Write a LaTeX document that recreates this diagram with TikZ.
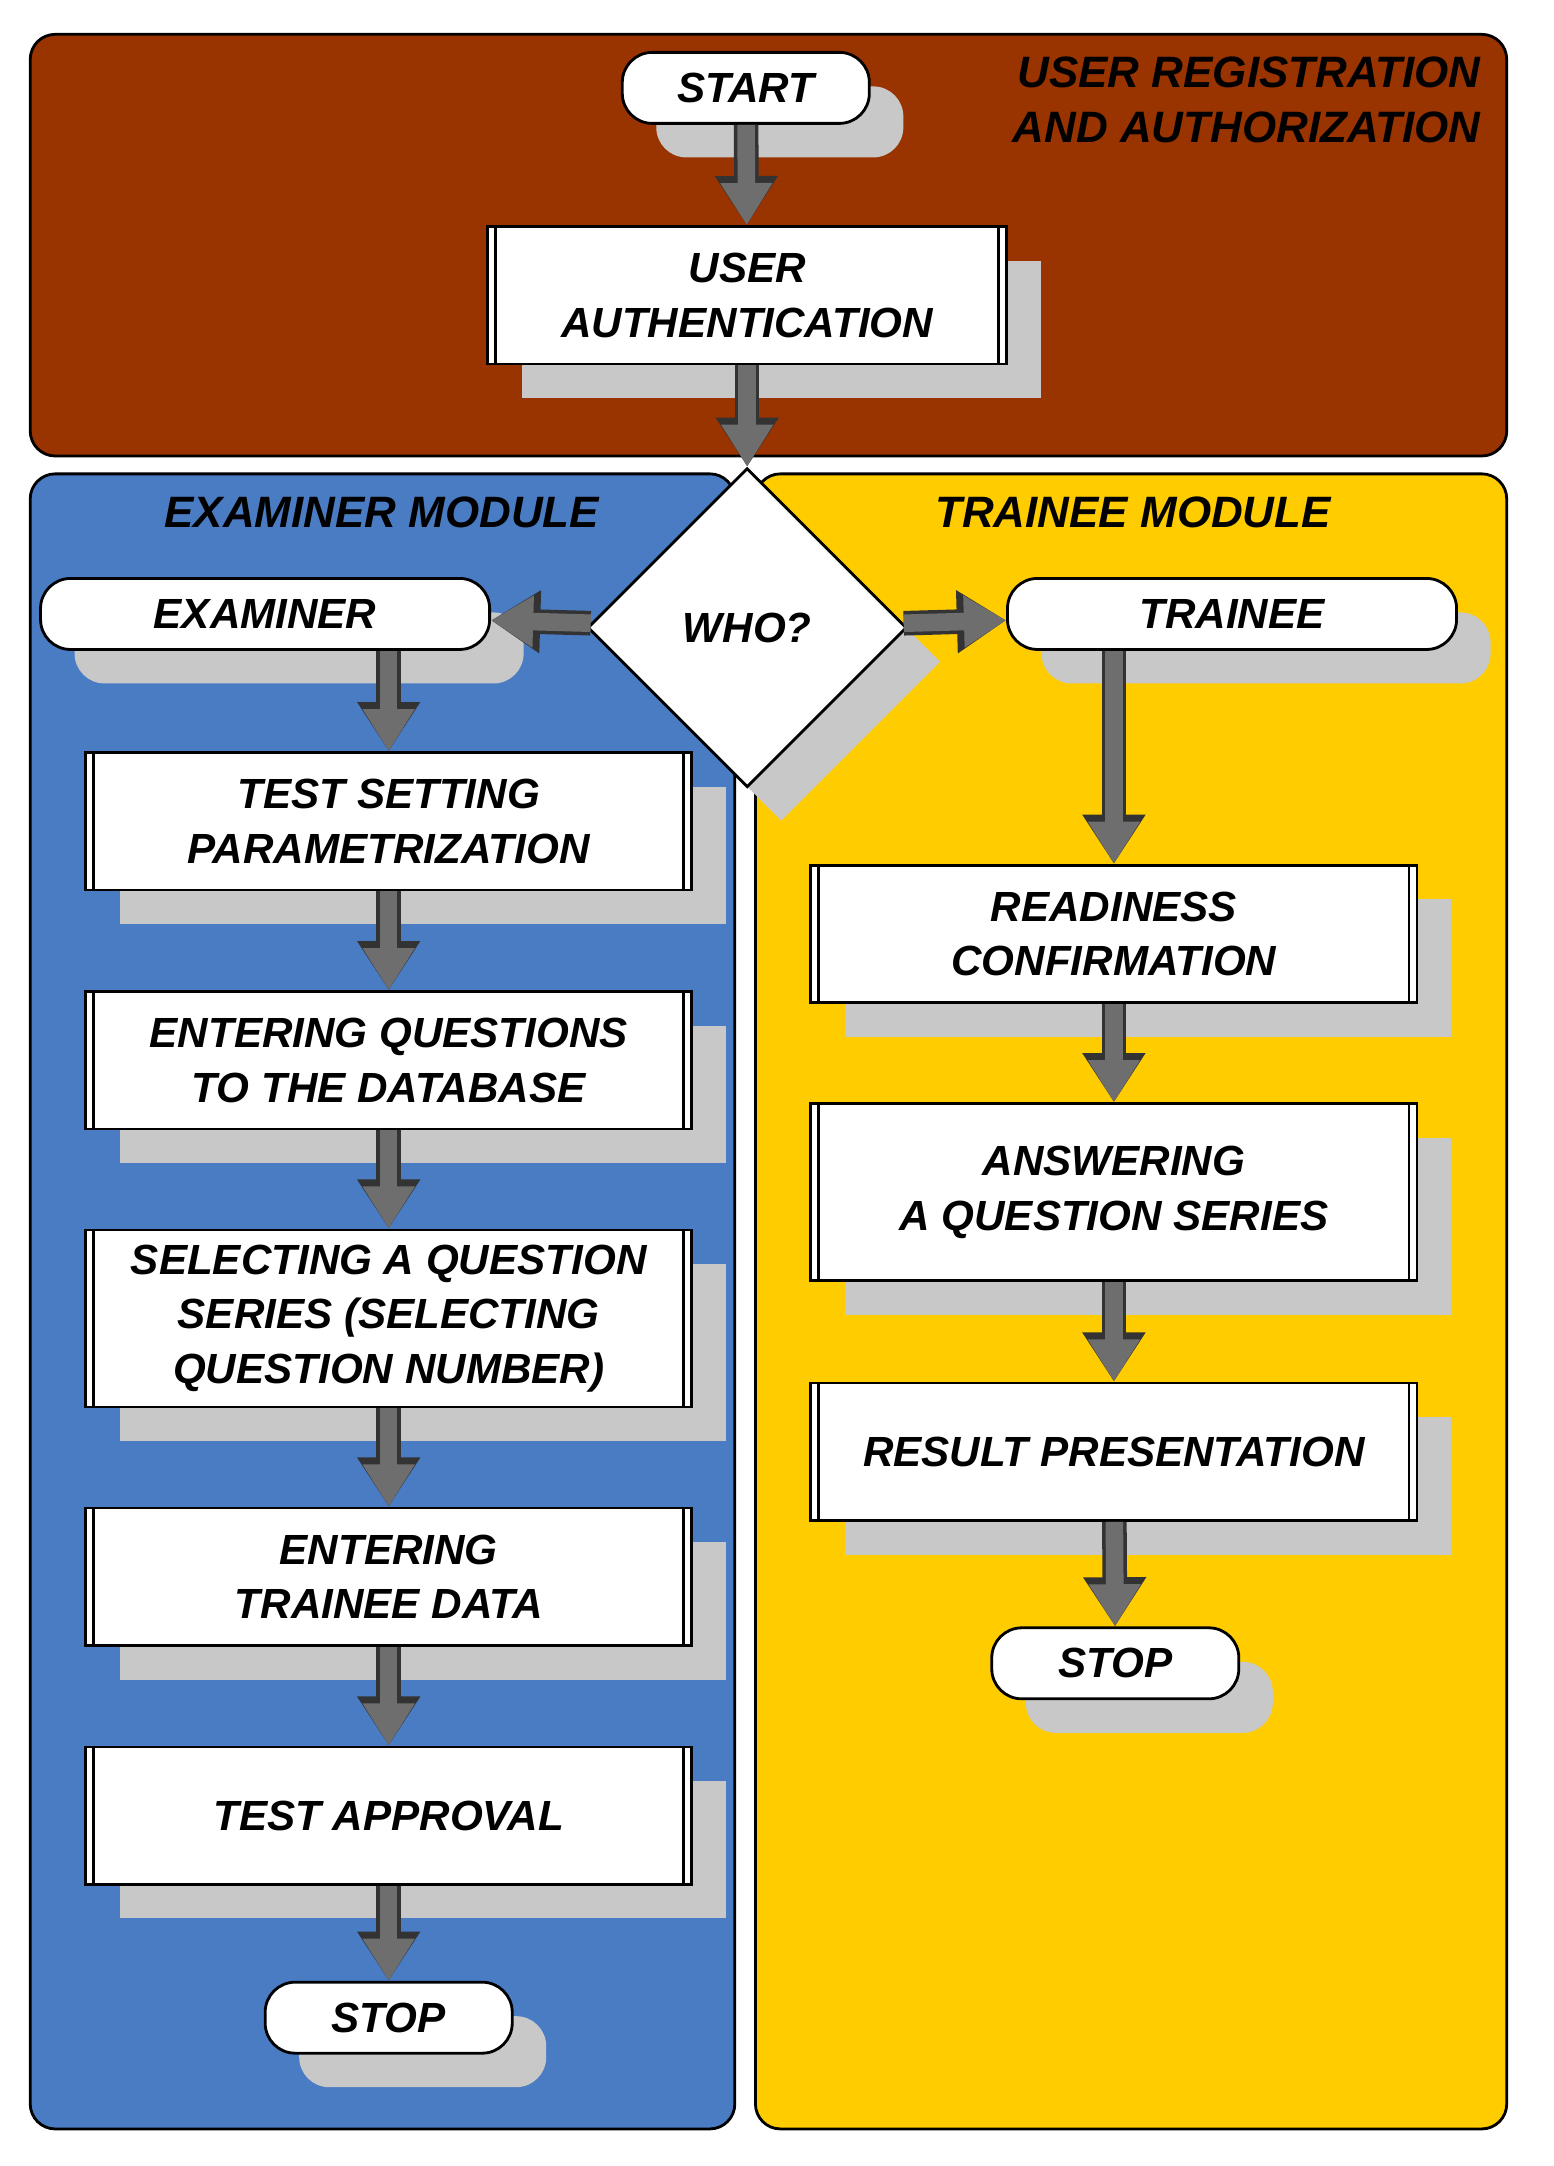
\documentclass[tikz,border=0pt]{standalone}
\usepackage{fontspec}
\setmainfont{Liberation Sans}
\usetikzlibrary{shapes.geometric,arrows.meta,shadows}
\definecolor{brownreg}{HTML}{993300}
\definecolor{bluemod}{HTML}{4A7CC4}
\definecolor{yellowmod}{HTML}{FFCC00}
\definecolor{shadowgray}{HTML}{C8C8C8}
\definecolor{arrowgray}{HTML}{6E6E6E}

\begin{document}
\begin{tikzpicture}[x=0.01374cm,y=-0.01374cm,
  every node/.style={font=\fontsize{12}{15.6}\selectfont\bfseries\itshape,align=center},
  shade/.style={drop shadow={shadow xshift=0.34cm,shadow yshift=-0.34cm,fill=shadowgray,opacity=1}},
  term/.style={draw=black,thick,fill=white,rounded corners=0.3cm,shade,minimum height=0.71cm},
  proc/.style={draw=black,thick,fill=white,shade,minimum width=6.06cm,minimum height=1.374cm,
    path picture={\draw[thick] ([xshift=0.08cm]path picture bounding box.north west) -- ([xshift=0.08cm]path picture bounding box.south west);
      \draw[thick] ([xshift=-0.08cm]path picture bounding box.north east) -- ([xshift=-0.08cm]path picture bounding box.south east);}},
  fat/.style={line width=5pt,draw=arrowgray,-{Triangle[width=14pt,length=12pt]},
    preaction={draw=black!80,line width=7pt,-{Triangle[width=17pt,length=14pt]}}},
  title/.style={font=\fontsize{12.5}{15.6}\selectfont\bfseries\itshape}]
\useasboundingbox (0,0) rectangle (1131,1577);
% panels
\draw[thick,fill=brownreg,rounded corners=0.25cm] (22,25) rectangle (1097,332);
\draw[thick,fill=bluemod,rounded corners=0.25cm] (22,345) rectangle (535,1550);
\draw[thick,fill=yellowmod,rounded corners=0.25cm] (550,345) rectangle (1097,1550);
\node[title,align=right,anchor=east] (ttop) at (1087,73) {USER REGISTRATION\\AND AUTHORIZATION};
\node[title] (tex) at (278,373) {EXAMINER MODULE};
\node[title] (ttr) at (825,373) {TRAINEE MODULE};
% nodes
\node[term,minimum width=2.47cm] (start) at (543,64) {START};
\node[proc,minimum width=5.19cm] (auth) at (544,215) {USER\\AUTHENTICATION};
\node[diamond,draw=black,thick,fill=white,shade,minimum size=3.19cm,inner sep=0pt] (who) at (544,457) {WHO?};
\node[term,minimum width=4.49cm] (exam) at (193,447) {EXAMINER};
\node[term,minimum width=4.49cm] (trn) at (897,447) {TRAINEE};
\node[proc] (tsp) at (283,598) {TEST SETTING\\PARAMETRIZATION};
\node[proc] (eqd) at (283,772) {ENTERING QUESTIONS\\TO THE DATABASE};
\node[proc,minimum height=1.77cm] (sqs) at (283,960) {SELECTING A QUESTION\\SERIES (SELECTING\\QUESTION NUMBER)};
\node[proc] (etd) at (283,1148) {ENTERING\\TRAINEE DATA};
\node[proc] (tap) at (283,1322) {TEST APPROVAL};
\node[term,minimum width=2.47cm] (stopl) at (283,1469) {STOP};
\node[proc] (rdy) at (811,680) {READINESS\\CONFIRMATION};
\node[proc,minimum height=1.77cm] (aqs) at (811,868) {ANSWERING\\A QUESTION SERIES};
\node[proc] (res) at (811,1057) {RESULT PRESENTATION};
\node[term,minimum width=2.47cm] (stopr) at (812,1211) {STOP};
% arrows
\draw[fat] (start) -- (auth);
\draw[fat] (auth) -- (who);
\draw[fat] (who) -- (exam);
\draw[fat] (who) -- (trn);
\draw[fat] (exam.south -| tsp.north) -- (tsp);
\draw[fat] (tsp) -- (eqd);
\draw[fat] (eqd) -- (sqs);
\draw[fat] (sqs) -- (etd);
\draw[fat] (etd) -- (tap);
\draw[fat] (tap) -- (stopl);
\draw[fat] (trn.south -| rdy.north) -- (rdy);
\draw[fat] (rdy) -- (aqs);
\draw[fat] (aqs) -- (res);
\draw[fat] (res) -- (stopr);
\end{tikzpicture}
\end{document}
